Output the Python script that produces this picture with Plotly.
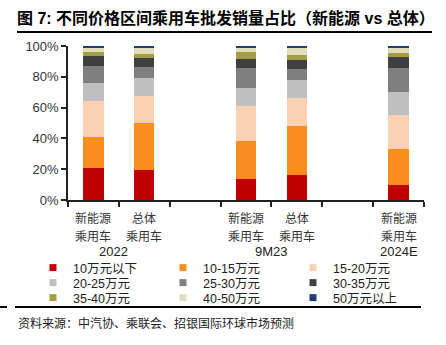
import plotly.graph_objects as go

# ---- data ----
slots = ["NEV-2022", "ALL-2022", "", "NEV-9M23", "ALL-9M23", "", "NEV-2024E"]
bar_slots = ["NEV-2022", "ALL-2022", "NEV-9M23", "ALL-9M23", "NEV-2024E"]
bar_line1 = ["新能源", "总体", "新能源", "总体", "新能源"]
bar_line2 = ["乘用车", "乘用车", "乘用车", "乘用车", "乘用车"]
periods = ["2022", "9M23", "2024E"]
period_pos = [0.4, 3.5, 6.0]

series_names = ["10万元以下", "10-15万元", "15-20万元", "20-25万元", "25-30万元",
                "30-35万元", "35-40万元", "40-50万元", "50万元以上"]
s_lt10 = [20.9, 19.3, 13.9, 16.3, 9.8]
s_10_15 = [19.8, 30.5, 24.1, 32.0, 23.2]
s_15_20 = [23.6, 17.6, 22.9, 17.8, 22.4]
s_20_25 = [11.8, 11.7, 12.1, 11.7, 14.8]
s_25_30 = [11.1, 7.2, 12.9, 7.0, 15.2]
s_30_35 = [6.5, 6.1, 5.8, 6.1, 7.6]
s_35_40 = [2.6, 2.4, 4.2, 3.0, 2.6]
s_40_50 = [2.6, 4.1, 3.4, 4.6, 2.8]
s_gt50 = [1.1, 1.1, 0.7, 1.5, 1.6]
series_values = [s_lt10, s_10_15, s_15_20, s_20_25, s_25_30, s_30_35, s_35_40, s_40_50, s_gt50]
colors = ["#C00000", "#F98E1E", "#FAD1B3", "#BFBFBF", "#7F7F7F",
          "#404040", "#A59D45", "#E2DDBB", "#1F3F73"]

x_pos = [slots.index(s) for s in bar_slots]

W, H = 446, 345
ML, MR, MT, MB = 68, 22, 46, 145
PW, PH = W - ML - MR, H - MT - MB


def px_x(p):
    return (p - ML) / PW


def px_y(p):
    return (H - MB - p) / PH


fig = go.Figure()
legend_ids = ["legend", "legend2", "legend3"]
for i, (name, vals, col) in enumerate(zip(series_names, series_values, colors)):
    fig.add_trace(go.Bar(
        x=x_pos, y=[v / 100 for v in vals], name=name,
        marker=dict(color=col, line=dict(width=0)),
        width=0.4, legendgroup=name, showlegend=False,
    ))
    # small square legend key for this series
    fig.add_trace(go.Scatter(
        x=[None], y=[None], mode="markers", name=name, legendgroup=name,
        marker=dict(symbol="square", size=7, color=col, line=dict(width=0)),
        legend=legend_ids[i // 3], showlegend=True, hoverinfo="skip",
    ))

font_lat = "Liberation Sans, Arial, Noto Sans CJK SC, sans-serif"
font_cjk = "Noto Sans CJK SC, sans-serif"

legend_common = dict(
    orientation="h", xanchor="left", yanchor="middle",
    x=px_x(33), font=dict(family=font_lat, size=12.5, color="#222"),
    bgcolor="rgba(0,0,0,0)", entrywidth=85, entrywidthmode="pixels",
    traceorder="normal", itemclick=False, itemsizing="trace",
)

layout_legends = {}
for j, lid in enumerate(legend_ids):
    layout_legends[lid] = dict(legend_common, y=px_y(268 + 15 * j))

annotations = []
for xp, l1, l2 in zip(x_pos, bar_line1, bar_line2):
    annotations.append(dict(x=xp, y=px_y(217), xref="x", yref="paper", text=l1,
                            showarrow=False, yanchor="middle",
                            font=dict(family=font_cjk, size=12, color="#333")))
    annotations.append(dict(x=xp, y=px_y(235), xref="x", yref="paper", text=l2,
                            showarrow=False, yanchor="middle",
                            font=dict(family=font_cjk, size=12, color="#333")))
for xp, p in zip(period_pos, periods):
    annotations.append(dict(x=xp, y=px_y(251), xref="x", yref="paper", text=p,
                            showarrow=False, yanchor="middle",
                            font=dict(family=font_lat, size=13, color="#222")))
annotations.append(dict(x=px_x(16), y=px_y(322), xref="paper", yref="paper",
                        text="资料来源：中汽协、乘联会、招银国际环球市场预测",
                        showarrow=False, xanchor="left", yanchor="middle",
                        font=dict(family=font_cjk, size=12, color="#222")))

shapes = [
    dict(type="line", xref="paper", yref="paper", x0=px_x(17), x1=px_x(432),
         y0=px_y(32), y1=px_y(32), line=dict(color="black", width=2)),
    dict(type="line", xref="paper", yref="paper", x0=px_x(15), x1=px_x(421),
         y0=px_y(307), y1=px_y(307), line=dict(color="black", width=2)),
    dict(type="line", xref="paper", yref="paper", x0=px_x(0), x1=px_x(7),
         y0=px_y(307), y1=px_y(307), line=dict(color="black", width=2)),
]

fig.update_layout(
    width=W, height=H,
    margin=dict(l=ML, r=MR, t=MT, b=MB, pad=0),
    barmode="stack",
    paper_bgcolor="white", plot_bgcolor="white",
    title=dict(text="<b>图 7: 不同价格区间乘用车批发销量占比（新能源 vs 总体）</b>",
               x=17 / W, xanchor="left", xref="container",
               y=1 - 18 / H, yanchor="middle", yref="container",
               font=dict(family=font_lat, size=16, color="black")),
    xaxis=dict(range=[-0.5, len(slots) - 0.5], showline=True, linecolor="#222",
               linewidth=1.5, ticks="outside", ticklen=5, tickwidth=1.5,
               tickcolor="#222",
               tickvals=[k - 0.5 for k in range(len(slots) + 1)],
               showticklabels=False, showgrid=False, zeroline=False, fixedrange=True),
    yaxis=dict(range=[0, 1], tickvals=[0, 0.2, 0.4, 0.6, 0.8, 1.0], tickformat=".0%",
               showline=True, linecolor="#222", linewidth=1.5, ticks="outside",
               ticklen=5, tickwidth=1.5, tickcolor="#222", showgrid=False,
               zeroline=False, tickfont=dict(family=font_lat, size=13, color="#333"),
               fixedrange=True),
    annotations=annotations,
    shapes=shapes,
    showlegend=True,
    **layout_legends,
)

fig.write_html("out.html")
